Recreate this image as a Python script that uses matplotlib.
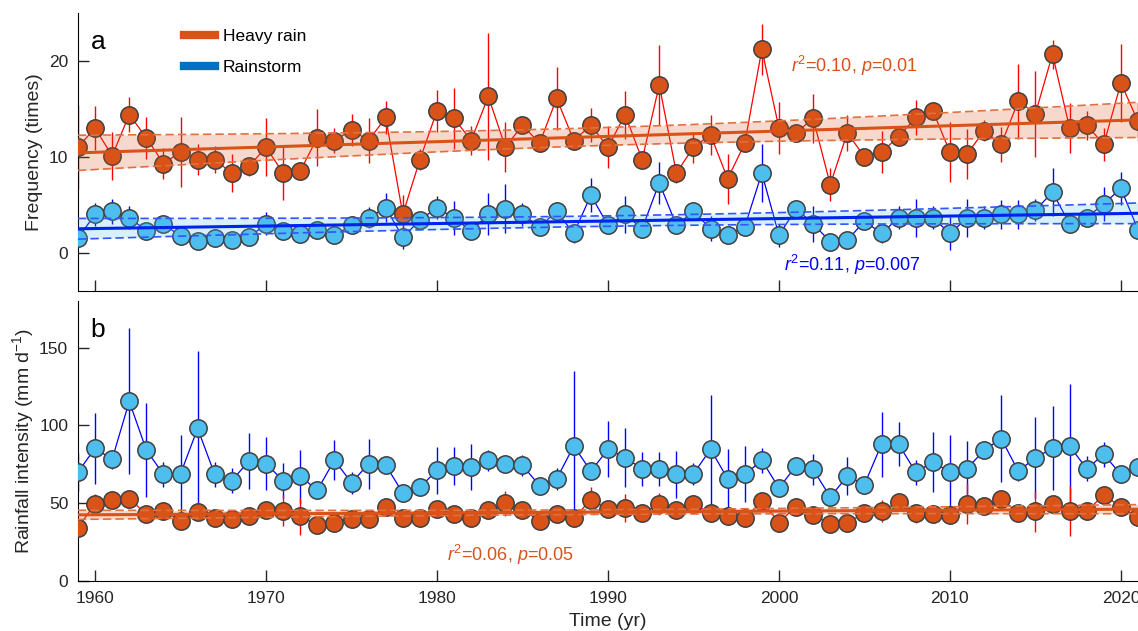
import numpy as np
import matplotlib
matplotlib.use("Agg")
from matplotlib import pyplot as plt

plt.rcParams['font.family'] = ['Liberation Sans', 'DejaVu Sans']
plt.rcParams['mathtext.fontset'] = 'custom'
plt.rcParams['mathtext.rm'] = 'Liberation Sans'
plt.rcParams['mathtext.it'] = 'Liberation Sans:italic'

years = np.arange(1959, 2022)

# panel a: frequency (times)
heavy_freq = [11.0, 13.0, 10.1, 14.4, 12.0, 9.3, 10.5, 9.7, 9.7, 8.3, 9.0,
              11.0, 8.3, 8.5, 12.0, 11.7, 12.8, 11.7, 14.1, 4.0, 9.7,
              14.8, 14.0, 11.7, 16.3, 11.0, 13.3, 11.4, 16.1, 11.7, 13.3,
              11.0, 14.4, 9.7, 17.5, 8.3, 11.0, 12.3, 7.7, 11.4, 21.2,
              13.0, 12.5, 14.0, 7.1, 12.5, 10.0, 10.5, 12.1, 14.1, 14.8,
              10.5, 10.3, 12.7, 11.3, 15.8, 14.5, 20.7, 13.0, 13.3, 11.3,
              17.7, 13.7]
heavy_freq_err = [4.4, 2.3, 2.5, 1.8, 2.2, 1.6, 3.7, 1.6, 1.4, 2.0, 1.0,
                  3.0, 2.8, 0.5, 3.0, 1.3, 1.7, 2.3, 1.7, 2.0, 1.1,
                  2.2, 3.2, 1.5, 6.6, 2.6, 0.7, 0.5, 3.3, 0.9, 1.8,
                  2.2, 2.5, 0.5, 4.2, 1.0, 1.6, 2.1, 2.6, 0.5, 2.7,
                  2.7, 0.5, 2.6, 1.7, 1.9, 0.3, 2.2, 0.5, 1.8, 0.3,
                  3.1, 2.6, 1.1, 1.8, 3.9, 4.5, 1.5, 2.6, 1.5, 1.7,
                  4.1, 2.0]
storm_freq = [1.5, 4.0, 4.3, 3.65, 2.3, 3.0, 1.7, 1.2, 1.5, 1.3, 1.6,
              3.0, 2.3, 1.9, 2.4, 1.8, 2.85, 3.65, 4.7, 1.6, 3.4,
              4.7, 3.6, 2.26, 4.0, 4.6, 4.0, 2.7, 4.3, 2.0, 6.0,
              2.85, 4.0, 2.5, 7.3, 2.85, 4.3, 2.5, 1.8, 2.7, 8.3,
              1.8, 4.6, 3.0, 1.15, 1.3, 3.3, 2.0, 3.65, 3.65, 3.65,
              2.0, 3.6, 3.65, 4.0, 4.0, 4.45, 6.3, 3.0, 3.65, 5.1,
              6.7, 2.4]
storm_freq_err = [0.8, 1.2, 1.3, 1.2, 0.5, 0.6, 0.8, 0.5, 0.6, 0.5, 0.6,
                  1.2, 0.8, 0.6, 0.7, 0.6, 0.7, 1.1, 1.5, 1.2, 0.8,
                  1.2, 1.8, 0.5, 2.2, 2.6, 1.2, 0.8, 1.0, 1.0, 1.8,
                  0.8, 1.9, 1.0, 2.2, 0.8, 0.8, 1.3, 0.5, 0.5, 3.0,
                  1.2, 0.8, 1.9, 0.4, 0.4, 0.4, 1.0, 1.2, 2.0, 1.2,
                  1.7, 2.0, 1.2, 1.5, 1.5, 1.1, 2.5, 1.0, 0.5, 1.8,
                  1.7, 1.0]

# panel b: rainfall intensity (mm/d)
heavy_int = [34.3, 49.7, 51.8, 52.9, 43.0, 45.1, 38.9, 44.1, 40.8, 39.7, 41.9,
             45.8, 45.1, 41.5, 36.1, 37.6, 40.0, 40.0, 47.5, 40.8, 40.4,
             46.2, 43.2, 40.4, 45.4, 50.1, 45.8, 38.7, 43.2, 40.4, 52.3,
             46.2, 46.9, 43.6, 49.5, 45.8, 49.5, 43.6, 41.5, 40.4, 51.2,
             37.6, 47.9, 42.5, 36.7, 37.6, 43.6, 45.1, 50.5, 43.6, 43.2,
             42.5, 49.7, 48.4, 52.7, 43.6, 44.7, 49.7, 45.1, 44.7, 55.5,
             47.5, 41.0]
heavy_int_err = [4, 6, 4, 4, 3, 3, 4, 5, 3, 3, 3,
                 5, 10, 12, 3, 3, 3, 4, 4, 5, 3,
                 4, 3, 3, 4, 8, 3, 3, 3, 3, 8,
                 4, 9, 3, 7, 5, 4, 3, 4, 3, 4,
                 3, 4, 4, 3, 3, 3, 7, 4, 6, 3,
                 6, 13, 4, 4, 4, 13, 4, 16, 4, 5,
                 4, 4]
storm_int = [70.0, 85.3, 78.2, 115.5, 84.2, 68.5, 68.9, 98.1, 68.5, 64.6, 77.1,
             75.4, 64.6, 67.4, 58.3, 77.8, 63.1, 75.4, 74.5, 56.6, 60.3,
             71.1, 73.9, 73.2, 77.5, 75.4, 74.3, 61.3, 65.7, 86.8, 70.6,
             84.7, 79.3, 72.1, 72.1, 68.5, 68.9, 84.7, 65.7, 68.5, 77.5,
             59.8, 73.9, 71.7, 54.0, 67.4, 62.0, 87.9, 87.9, 70.0, 76.5,
             70.0, 72.1, 84.2, 91.6, 70.6, 79.3, 85.3, 86.8, 72.1, 81.4,
             68.5, 73.4]
storm_int_err = [12, 23, 6, 47, 30, 8, 25, 50, 8, 8, 18,
                 17, 11, 17, 2, 13, 7, 16, 3, 2, 3,
                 15, 12, 15, 7, 4, 7, 2, 7, 48, 2,
                 18, 19, 11, 11, 15, 7, 35, 19, 18, 8,
                 5, 6, 10, 2, 12, 5, 21, 14, 8, 19,
                 24, 18, 6, 28, 6, 26, 27, 40, 8, 8,
                 3, 5]

orange = '#D95319'
lblue = '#4DBEEE'


def trend(ax, x, y, color, fill, edge, k=2.8):
    # linear fit with confidence band of the fitted mean
    x = np.asarray(x, float)
    y = np.asarray(y, float)
    n = len(x)
    b, a = np.polyfit(x, y, 1)
    fit = a + b * x
    s = np.sqrt(np.sum((y - fit) ** 2) / (n - 2))
    se = s * np.sqrt(1.0 / n + (x - x.mean()) ** 2 / np.sum((x - x.mean()) ** 2))
    ci = k * se
    ax.fill_between(x, fit - ci, fit + ci, color=fill, alpha=0.22, lw=0, zorder=5)
    ax.plot(x, fit + ci, color=edge, lw=1.2, dashes=(5, 2.5), zorder=6)
    ax.plot(x, fit - ci, color=edge, lw=1.2, dashes=(5, 2.5), zorder=6)
    ax.plot(x, fit, '-', color=color, lw=2.2, zorder=6)


def series(ax, y, err, face, line):
    ax.errorbar(years, y, yerr=err, fmt='none', ecolor=line, elinewidth=1, capsize=0, zorder=2)
    ax.plot(years, y, '-', color=line, lw=0.9, zorder=3)
    ax.plot(years, y, 'o', ms=12.5, mfc=face, mec='#404040', mew=1.1, zorder=4, linestyle='none')


def style(ax):
    ax.spines['top'].set_visible(False)
    ax.spines['right'].set_visible(False)
    ax.tick_params(direction='in', length=8, width=1, labelsize=12.5, colors='#262626', pad=7)
    ax.set_xlim(1959, 2021)
    ax.set_xticks([1960, 1970, 1980, 1990, 2000, 2010, 2020])


fig = plt.figure(figsize=(11.38, 6.31), dpi=100)
ax1 = fig.add_axes([0.0685, 0.5388, 0.9315, 0.4406])
ax2 = fig.add_axes([0.0685, 0.0792, 0.9315, 0.4438])

# panel a
series(ax1, heavy_freq, heavy_freq_err, orange, '#FF0000')
series(ax1, storm_freq, storm_freq_err, lblue, '#0000FF')
trend(ax1, years, heavy_freq, orange, orange, '#E2703F', k=2.6)
trend(ax1, years, storm_freq, '#0022EE', lblue, '#3355FF', k=3.0)
style(ax1)
ax1.set_ylim(-4, 25)
ax1.set_yticks([0, 10, 20])
ax1.set_xticklabels([])
ax1.set_ylabel('Frequency (times)', fontsize=14, color='#262626')
ax1.yaxis.set_label_coords(-0.033, 0.5)
ax1.text(0.012, 0.87, 'a', transform=ax1.transAxes, fontsize=19)
h1, = ax1.plot([], [], color=orange, lw=6)
h2, = ax1.plot([], [], color='#0072BD', lw=6)
ax1.legend([h1, h2], ['Heavy rain', 'Rainstorm'], loc='upper left', bbox_to_anchor=(0.085, 1.0),
           frameon=False, fontsize=12.5, handlelength=1.8, handletextpad=0.45, labelspacing=0.95)
ax1.text(2000.7, 18.8, '$r^2$=0.10, $p$=0.01', color=orange, fontsize=13)
ax1.text(2000.3, -1.9, '$r^2$=0.11, $p$=0.007', color='#0000FF', fontsize=13)

# panel b
series(ax2, storm_int, storm_int_err, lblue, '#0000FF')
series(ax2, heavy_int, heavy_int_err, orange, '#FF0000')
trend(ax2, years, heavy_int, orange, orange, '#E2703F', k=2.6)
style(ax2)
ax2.set_ylim(0, 180)
ax2.set_yticks([0, 50, 100, 150])
ax2.set_ylabel('Rainfall intensity (mm d$^{-1}$)', fontsize=14, color='#262626')
ax2.yaxis.set_label_coords(-0.040, 0.5)
ax2.set_xlabel('Time (yr)', fontsize=14, color='#262626')
ax2.xaxis.set_label_coords(0.5, -0.115)
ax2.text(0.012, 0.87, 'b', transform=ax2.transAxes, fontsize=19)
ax2.text(1980.6, 13, '$r^2$=0.06, $p$=0.05', color=orange, fontsize=13)

fig.savefig('out.png', dpi=100)
